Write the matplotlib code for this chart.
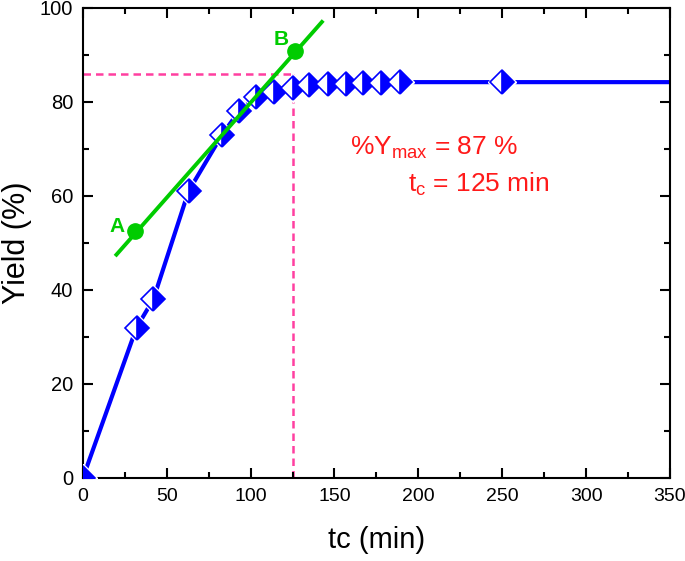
import matplotlib
matplotlib.use("Agg")
import matplotlib.pyplot as plt

plt.rcParams['font.family'] = ['Liberation Sans', 'DejaVu Sans']
plt.rcParams['mathtext.fontset'] = 'custom'
plt.rcParams['mathtext.rm'] = 'Liberation Sans'
plt.rcParams['mathtext.it'] = 'Liberation Sans'

# Yield curve data
tc = [0, 32, 42, 63, 83, 93, 103, 114, 125, 135, 146, 157, 167, 178, 189, 250, 380]
yield_pct = [0, 32, 38, 61, 73, 78, 81, 82, 83, 83.5, 83.7, 83.9, 84, 84, 84.2, 84.2, 84.2]

# Tangent line and points A, B
tan_x = [20, 142.5]
tan_y = [47.5, 97]
pts_x = [31, 126.5]
pts_y = [52.5, 90.8]
pts_labels = ["A", "B"]

# Reference (dashed) lines
ymax_level = 86
tc_value = 125

blue = '#0000FF'
green = '#00CC00'
pink = '#FF3FA0'
red = '#FF1A1A'

fig = plt.figure(figsize=(6.85, 5.61), dpi=100)
ax = fig.add_axes([0.121, 0.148, 0.857, 0.838])

# dashed guide lines
ax.plot([0, tc_value], [ymax_level, ymax_level], color=pink, lw=1.8, ls=(0, (3, 2)), zorder=1)
ax.plot([tc_value, tc_value], [0, ymax_level], color=pink, lw=1.8, ls=(0, (3, 2)), zorder=1)

# blue curve
ax.plot(tc, yield_pct, color=blue, lw=3, zorder=2)
ax.plot(tc, yield_pct, ls='none', marker='D', markersize=14, color='white', zorder=3)
ax.plot(tc, yield_pct, ls='none', marker='D', markersize=12, fillstyle='right',
        markerfacecolor=blue, markerfacecoloralt='white', markeredgecolor=blue,
        markeredgewidth=1.2, zorder=4)

# green tangent
ax.plot(tan_x, tan_y, color=green, lw=2.8, zorder=5)
ax.plot(pts_x, pts_y, ls='none', marker='o', markersize=11, color=green, zorder=6)
ax.text(pts_x[0] - 10.7, pts_y[0] + 0.9, pts_labels[0], color=green, fontsize=15,
        fontweight='bold', ha='center', va='center')
ax.text(pts_x[1] - 8.5, pts_y[1] + 2.4, pts_labels[1], color=green, fontsize=15,
        fontweight='bold', ha='center', va='center')

ax.text(159, 68.7, r'%Y$_{\mathrm{max}}$ = 87 %', color=red, fontsize=19,
        ha='left', va='baseline')
ax.text(194, 60.9, r't$_{\mathrm{c}}$ = 125 min', color=red, fontsize=19,
        ha='left', va='baseline')

ax.set_xlim(0, 350)
ax.set_ylim(0, 100)
ax.set_xticks(range(0, 351, 50))
ax.set_xticks(range(0, 351, 25), minor=True)
ax.set_yticks(range(0, 101, 20))
ax.set_yticks(range(0, 101, 10), minor=True)
ax.tick_params(which='both', direction='in', top=True, right=True, width=1.5,
               labelsize=14, pad=7)
ax.tick_params(axis='y', labelsize=14.5)
ax.tick_params(which='major', length=7)
ax.tick_params(which='minor', length=4)
for s in ax.spines.values():
    s.set_linewidth(1.5)

ax.set_xlabel('tc (min)', fontsize=21)
ax.set_ylabel('Yield (%)', fontsize=22)
ax.xaxis.set_label_coords(0.50, -0.132)
ax.yaxis.set_label_coords(-0.112, 0.5)
ax.xaxis.label.set_va('center')
ax.yaxis.label.set_va('center')

fig.savefig('out.png', dpi=100)
